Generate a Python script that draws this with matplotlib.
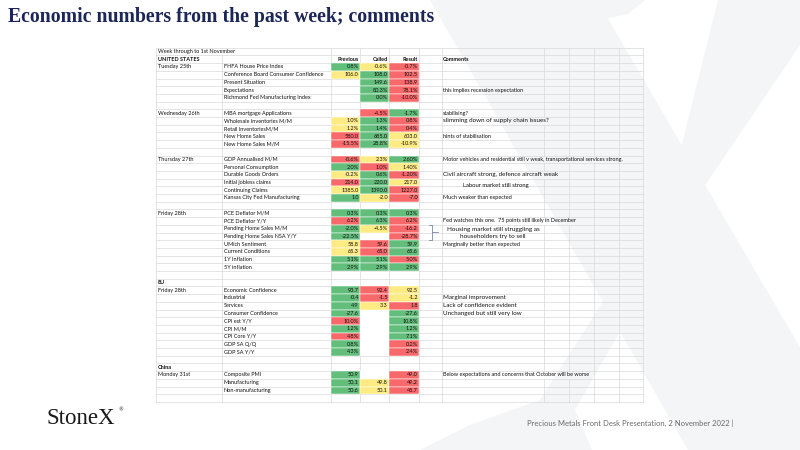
import matplotlib
matplotlib.use("Agg")
import matplotlib.pyplot as plt
from matplotlib.patches import Rectangle, Polygon

# ------------------------------------------------------------------ data
title = "Economic numbers from the past week; comments"
footer = "Precious Metals Front Desk Presentation, 2 November 2022 |"
brand = "StoneX"
headers = ["Previous", "Called", "Result"]
comments_header = "Comments"

row_label = [
    "Week through to 1st November", "UNITED STATES",
    "Tuesday 25th", "", "", "", "", "",
    "Wednesday 26th", "", "", "", "", "",
    "Thursday 27th", "", "", "", "", "", "",
    "Friday 28th", "", "", "", "", "", "", "", "",
    "EU",
    "Friday 28th", "", "", "", "", "", "", "", "", "",
    "China",
    "Monday 31st", "", "", "",
]
bold_labels = ["UNITED STATES", "EU", "China"]

indicator = [
    "", "",
    "FHFA House Price Index", "Conference Board Consumer Confidence", "Present Situation",
    "Expectations", "Richmond Fed Manufacturing Index", "",
    "MBA mortgage Applications", "Wholesale Inventories M/M", "Retail InventoriesM/M",
    "New Home Sales", "New Home Sales M/M", "",
    "GDP Annualised M/M", "Personal Consumption", "Durable Goods Orders",
    "Initial jobless claims", "Continuing Claims", "Kansas City Fed Manufacturing", "",
    "PCE Deflator M/M", "PCE Deflator Y/Y", "Pending Home Sales M/M",
    "Pending Home Sales NSA Y/Y", "UMich Sentiment", "Current Conditions",
    "1Y Inflation", "5Y inflation", "",
    "",
    "Economic Confidence", "Industrial", "Services", "Consumer Confidence",
    "CPI est Y/Y", "CPI M/M", "CPI Core Y/Y", "GDP SA Q/Q", "GDP SA Y/Y", "",
    "",
    "Composite PMI", "Manufacturing", "Non-manufacturing", "",
]

previous = [
    "", "",
    "0.8%", "106.0", "", "", "", "",
    "", "1.0%", "1.2%", "580.0", "-15.5%", "",
    "-0.6%", "2.0%", "-0.2%", "214.0", "1385.0", "1.0", "",
    "0.3%", "6.2%", "-2.0%", "-22.5%", "58.8", "65.3", "5.1%", "2.9%", "",
    "",
    "93.7", "-0.4", "4.9", "-27.6", "10.0%", "1.2%", "4.8%", "0.8%", "4.3%", "",
    "",
    "50.9", "50.1", "50.6", "",
]
previous_rank = [
    "", "",
    "g", "y", "", "", "", "",
    "", "y", "y", "r", "r", "",
    "r", "g", "y", "r", "y", "g", "",
    "g", "r", "g", "g", "y", "y", "g", "g", "",
    "",
    "g", "g", "g", "g", "r", "g", "r", "g", "g", "",
    "",
    "g", "g", "g", "",
]

called = [
    "", "",
    "-0.6%", "108.0", "149.6", "80.3%", "0.0%", "",
    "-4.5%", "1.3%", "1.4%", "685.0", "28.8%", "",
    "2.3%", "1.0%", "0.6%", "220.0", "1390.0", "-2.0", "",
    "0.3%", "6.3%", "-4.5%", "", "59.6", "65.0", "5.1%", "2.9%", "",
    "",
    "92.4", "-1.5", "3.3", "", "", "", "", "", "", "",
    "",
    "", "49.8", "50.1", "",
]
called_rank = [
    "", "",
    "y", "g", "g", "g", "g", "",
    "r", "g", "g", "g", "g", "",
    "y", "r", "g", "g", "g", "y", "",
    "g", "g", "y", "w", "r", "r", "g", "g", "",
    "",
    "r", "r", "y", "w", "w", "w", "w", "w", "w", "",
    "",
    "w", "y", "y", "",
]

result = [
    "", "",
    "-0.7%", "102.5", "138.9", "78.1%", "-10.0%", "",
    "-1.7%", "0.8%", "0.4%", "603.0", "-10.9%", "",
    "2.60%", "1.40%", "-1.20%", "217.0", "1227.0", "-7.0", "",
    "0.3%", "6.2%", "-16.2", "-28.7%", "59.9", "65.6", "5.0%", "2.9%", "",
    "",
    "92.5", "-1.2", "1.8", "-27.6", "10.8%", "1.2%", "7.1%", "0.2%", "2.4%", "",
    "",
    "49.0", "49.2", "48.7", "",
]
result_rank = [
    "", "",
    "r", "r", "r", "r", "r", "",
    "g", "r", "r", "y", "y", "",
    "g", "y", "r", "y", "r", "r", "",
    "g", "r", "r", "r", "g", "g", "r", "g", "",
    "",
    "y", "y", "r", "g", "g", "g", "g", "r", "r", "",
    "",
    "r", "r", "r", "",
]

comment_row = [5, 8, 9, 11, 14, 16, 19, 22, 25, 32, 33, 34, 42]
comment_text = [
    "this implies recession expectation",
    "stabilising?",
    "slimming down of supply chain issues?",
    "hints of stabilisation",
    "Motor vehicles and residential still v weak, transportational services strong.",
    "Civil aircraft strong, defence aircraft weak",
    "Much weaker than expected",
    "Fed watches this one.  75 points still likely in December",
    "Marginally better than expected",
    "Marginal improvement",
    "Lack of confidence evident",
    "Unchanged but still very low",
    "Below expectations and concerns that October will be worse",
]
note_labour = "Labour market still strong"
note_housing = ["Housing market still struggling as", "householders try to sell"]

# ------------------------------------------------------------------ style / layout
W, H = 800, 450
FILL = {"g": "#63BE7B", "y": "#FFEB84", "r": "#F8696B", "w": "#FFFFFF"}
GRID = "#D9D9D9"
WM = "#F4F5F7"
NAVY = "#1C2657"
TFONT = ["Lato", "DejaVu Sans"]
FS = 4.0

col_edges = [156, 222, 331, 360, 389, 419, 441.5, 544, 568.5, 593.5, 618.5, 642.5]
top, rh = 47.7, 7.70
nrows = len(indicator)
big_comment_rows = {9, 16, 32, 33, 34}


def yc(r):
    return top + (r + 0.5) * rh


fig = plt.figure(figsize=(8, 4.5), dpi=100)
ax = fig.add_axes([0, 0, 1, 1])
ax.set_xlim(0, W)
ax.set_ylim(H, 0)
ax.axis("off")

# watermark X
wm_polys = [
    [(430, 0), (597, 0), (860, 450), (688, 450)],
    [(590, 0), (645, 0), (628, 14), (600, 20)],
    [(718, 0), (800, 0), (800, 45), (695, 200), (668, 200)],
    [(668, 200), (695, 200), (575, 410), (592, 450), (420, 450), (470, 425), (540, 400)],
]
for p in wm_polys:
    ax.add_patch(Polygon(p, closed=True, facecolor=WM, edgecolor="none", zorder=0))

# title, brand, footer
ax.text(8, 17, title, fontsize=14.2, fontweight="bold", color=NAVY,
        family=["Liberation Serif", "DejaVu Serif"], va="center", ha="left", zorder=5)
ax.text(46, 418, brand, fontsize=16.5, color="#1A1A1A",
        family=["Liberation Serif", "DejaVu Serif"], va="center", ha="left", zorder=5)
ax.text(118.5, 410, "®", fontsize=3.5, color="#1A1A1A", va="center", ha="left", zorder=5)
ax.text(527, 423, footer, fontsize=5.5, color="#6B6B6B",
        family=["Lato", "DejaVu Sans"], va="center", ha="left", zorder=5)

texts = []  # (row, Text) for overflow checks


def cell_text(r, x, s, ha="left", bold=False, fs=FS, track=True):
    t = ax.text(x, yc(r), s, fontsize=fs, family=TFONT, ha=ha, va="center",
                fontweight="bold" if bold else "normal", color="#111111", zorder=4)
    if track:
        texts.append((r, t))
    return t


# left labels and indicators
for r in range(nrows):
    if row_label[r]:
        cell_text(r, col_edges[0] + 1.5, row_label[r], bold=row_label[r] in bold_labels)
    if indicator[r]:
        cell_text(r, col_edges[1] + 1.8, indicator[r])

# headers
for j, h in enumerate(headers):
    cell_text(1, col_edges[3 + j] - 1.2, h, ha="right", bold=True)
cell_text(1, col_edges[6] + 1.5, comments_header, bold=True)

# value cells
for j, (vals, ranks) in enumerate([(previous, previous_rank), (called, called_rank), (result, result_rank)]):
    x0, x1 = col_edges[2 + j], col_edges[3 + j]
    for r in range(nrows):
        if ranks[r]:
            ax.add_patch(Rectangle((x0, top + r * rh), x1 - x0, rh, facecolor=FILL[ranks[r]],
                                   edgecolor="white" if ranks[r] != "w" else "none",
                                   linewidth=0.35, zorder=2))
        if vals[r]:
            cell_text(r, x1 - 1.2, vals[r], ha="right", track=False)

# comments
for r, s in zip(comment_row, comment_text):
    cell_text(r, col_edges[6] + 1.5, s, fs=4.5 if r in big_comment_rows else FS)

# floating notes
ax.text(463, 186, note_labour, fontsize=4.2, family=TFONT, ha="left", va="center",
        color="#111111", zorder=4)
for k, s in enumerate(note_housing):
    ax.text(493, 229 + k * 7.6, s, fontsize=4.6, family=TFONT, ha="center", va="center",
            color="#111111", zorder=4)
# bracket
bx, by0, by1 = 432.3, 224.5, 240.0
ax.plot([428.5, bx, bx, 428.5], [by0, by0, by1, by1], color="#7D87A3", lw=0.6, zorder=4)
ax.plot([bx, 437.5], [(by0 + by1) / 2] * 2, color="#7D87A3", lw=0.6, zorder=4)

# grid (hidden where text overflows, like a spreadsheet)
fig.canvas.draw()
renderer = fig.canvas.get_renderer()
spans = {}
for r, t in texts:
    bb = t.get_window_extent(renderer)
    spans.setdefault(r, []).append((bb.x0, bb.x1))

for r in range(nrows + 1):
    y = top + r * rh
    ax.plot([col_edges[0], col_edges[-1]], [y, y], color=GRID, lw=0.5, zorder=1)
for r in range(nrows):
    y0, y1 = top + r * rh, top + (r + 1) * rh
    for c in col_edges:
        hidden = any(a < c - 0.5 and b > c + 0.5 for a, b in spans.get(r, []))
        if c in (col_edges[0], col_edges[-1]) or not hidden:
            ax.plot([c, c], [y0, y1], color=GRID, lw=0.5, zorder=1)

fig.savefig("out.png", dpi=100, facecolor="white")
